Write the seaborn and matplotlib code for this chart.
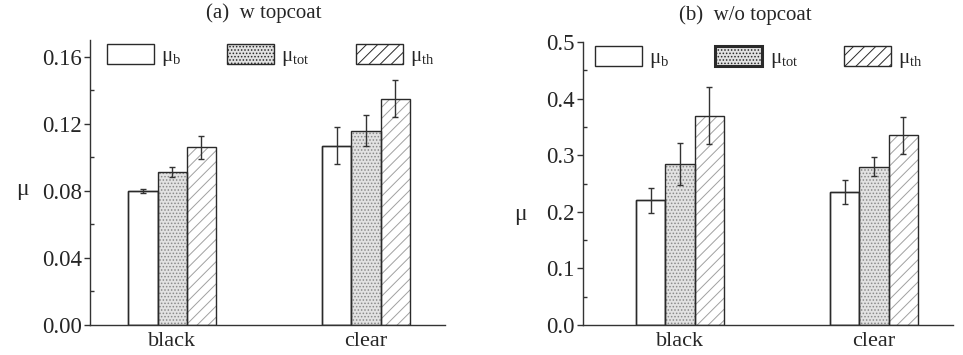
import numpy as np
import pandas as pd
import matplotlib
matplotlib.use("Agg")
import matplotlib.pyplot as plt
import seaborn as sns
from matplotlib.patches import Patch, Rectangle

sns.set_theme(style="ticks")
plt.rcParams['font.family'] = ['Liberation Serif', 'DejaVu Serif']
plt.rcParams['hatch.linewidth'] = 0.7

categories = ["black", "clear"]
series = ["μb", "μtot", "μth"]
series_labels = [r"$\mathregular{\mu_b}$", r"$\mathregular{\mu_{tot}}$", r"$\mathregular{\mu_{th}}$"]

# (a) w topcoat
a_b = [0.080, 0.107]
a_tot = [0.091, 0.116]
a_th = [0.106, 0.135]
a_b_err = [0.001, 0.011]
a_tot_err = [0.003, 0.009]
a_th_err = [0.007, 0.011]

# (b) w/o topcoat
b_b = [0.220, 0.235]
b_tot = [0.285, 0.280]
b_th = [0.370, 0.335]
b_b_err = [0.022, 0.022]
b_tot_err = [0.037, 0.017]
b_th_err = [0.050, 0.033]

a_ticks = [0.00, 0.04, 0.08, 0.12, 0.16]
b_ticks = [0.0, 0.1, 0.2, 0.3, 0.4, 0.5]

faces = ["white", "#e2e2e2", "white"]
hatches = [None, ".....", "///"]
hatch_cols = ["#333333", "#8a8a8a", "#a0a0a0"]
EDGE = "#2a2a2a"

def make_df(vals):
    rows = []
    for s, v in zip(series, vals):
        for c, x in zip(categories, v):
            rows.append({"cat": c, "series": s, "val": x})
    return pd.DataFrame(rows)

fig = plt.figure(figsize=(9.63, 3.55), dpi=100)
ax1 = fig.add_axes([90/963, 1-325/355, 355/963, 285/355])
ax2 = fig.add_axes([583/963, 1-325/355, 370/963, 283/355])

def draw(ax, vals, errs, ylim, ticks, fmt, title, title_x, xlim, bold_tot,
         ylab_pos, leg_x):
    df = make_df(vals)
    sns.barplot(data=df, x="cat", y="val", hue="series", order=categories,
                hue_order=series, width=0.45, errorbar=None, ax=ax, legend=False,
                palette=["white"]*3, saturation=1)
    patches = list(ax.patches[:6])
    for i, p in enumerate(patches):
        si = i // 2
        p.set_facecolor(faces[si])
        p.set_zorder(2)
        if hatches[si]:
            p.set_hatch(hatches[si])
            p.set_edgecolor(hatch_cols[si])
            p.set_linewidth(0)
        else:
            p.set_edgecolor(EDGE)
            p.set_linewidth(1.0)
        outline = Rectangle(p.get_xy(), p.get_width(), p.get_height(), fill=False,
                            edgecolor=EDGE, linewidth=1.0, zorder=2.5)
        ax.add_patch(outline)
    xs, ys, es = [], [], []
    for i, p in enumerate(patches):
        si, ci = i // 2, i % 2
        xs.append(p.get_x() + p.get_width()/2)
        ys.append(vals[si][ci])
        es.append(errs[si][ci])
    ax.errorbar(xs, ys, yerr=es, fmt="none", ecolor="#333333", elinewidth=1.0,
                capsize=2.5, capthick=1.0, zorder=3)
    ax.set_ylim(*ylim)
    ax.set_xlim(*xlim)
    ax.set_yticks(ticks)
    ax.set_yticklabels([fmt.format(t) for t in ticks], fontsize=16.5)
    minors = [(ticks[i]+ticks[i+1])/2 for i in range(len(ticks)-1)]
    ax.set_yticks(minors, minor=True)
    ax.tick_params(axis="y", which="major", direction="out", length=4, width=1, color="#333333", pad=2)
    ax.tick_params(axis="y", which="minor", direction="in", length=3, width=1, color="#333333")
    ax.tick_params(axis="x", length=0, labelsize=16, pad=5)
    ax.set_xlabel("")
    ax.set_ylabel("μ", fontsize=17, rotation=0)
    ax.yaxis.set_label_coords(*ylab_pos)
    t = ax.set_title(title, fontsize=15, pad=16)
    t.set_x(title_x)
    for s in ["top", "right"]:
        ax.spines[s].set_visible(False)
    for s in ["left", "bottom"]:
        ax.spines[s].set_color("#333333")
        ax.spines[s].set_linewidth(1.0)
    handles = []
    for si in range(3):
        lw = 2.2 if (bold_tot and si == 1) else 1.0
        h = Patch(facecolor=faces[si], edgecolor=EDGE, hatch=hatches[si], linewidth=lw)
        handles.append(h)
    ax.legend(handles, series_labels, ncol=3, loc="upper left",
              bbox_to_anchor=(leg_x, 0.985), frameon=False, fontsize=15,
              handlelength=2.25, handleheight=1.1, columnspacing=2.2,
              handletextpad=0.35, borderaxespad=0, borderpad=0)
    ax.set_facecolor("white")

draw(ax1, [a_b, a_tot, a_th], [a_b_err, a_tot_err, a_th_err], (0, 0.17), a_ticks,
     "{:.2f}", "(a)  w topcoat", 0.49, (-0.423, 1.407), False, (-0.19, 0.44), 0.048)
draw(ax2, [b_b, b_tot, b_th], [b_b_err, b_tot_err, b_th_err], (0, 0.5), b_ticks,
     "{:.1f}", "(b)  w/o topcoat", 0.44, (-0.5, 1.407), True, (-0.17, 0.355), 0.033)

fig.savefig("out.png", dpi=100, facecolor="white")
